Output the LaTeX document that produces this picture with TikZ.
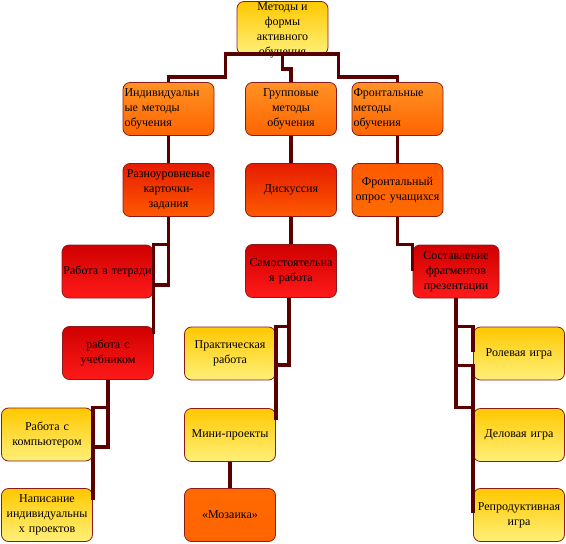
\documentclass[tikz,border=0pt]{standalone}
\usepackage{fontspec}
\setmainfont{Liberation Serif}
\usepackage{tikz}
\usetikzlibrary{calc}

\definecolor{linkred}{HTML}{5A0000}
\definecolor{edgered}{HTML}{8B1A1A}
\definecolor{yelTop}{HTML}{FFC800}
\definecolor{yelBot}{HTML}{FFF07A}
\definecolor{orgTop}{HTML}{FF9224}
\definecolor{orgBot}{HTML}{FF6400}
\definecolor{roTop}{HTML}{E61C00}
\definecolor{roBot}{HTML}{FF5A00}
\definecolor{redTop}{HTML}{D00000}
\definecolor{redBot}{HTML}{FF1A1A}

\begin{document}
\begin{tikzpicture}[x=1pt, y=-1pt,
    cell/.style={draw=edgered, line width=0.8pt, rounded corners=7pt, minimum width=91pt, minimum height=53pt, text width=88pt, inner xsep=1.5pt, align=center, font=\fontsize{12}{15}\selectfont},
    yellowbox/.style={cell, top color=yelTop, bottom color=yelBot},
    orangebox/.style={cell, top color=orgTop, bottom color=orgBot},
    redorange/.style={cell, top color=roTop, bottom color=roBot},
    redbox/.style={cell, top color=redTop, bottom color=redBot},
    lab/.style={align=center, font=\fontsize{12}{15}\selectfont},
    link/.style={draw=linkred, line width=3.5pt},
]
\useasboundingbox (0,0) rectangle (566,544);

% вершина
\node[yellowbox] (metod) at (282.5,28) {};
\node[lab] at (282.5,30.5) {Методы и\\формы\\активного\\обучения};

% второй уровень
\node[orangebox, align=left] (indiv) at (168.5,109) {Индивидуальн\\ые методы\\обучения};
\node[orangebox] (grupp) at (291,109) {Групповые\\методы\\обучения};
\node[orangebox, align=left] (front) at (397.5,109) {Фронтальные\\методы\\обучения};

% третий уровень
\node[redorange] (kart)  at (168.5,190) {Разноуровневые\\карточки-\\задания};
\node[redorange] (disk)  at (291,190)   {Дискуссия};
\node[redorange, top color=orgBot!90!red, bottom color=orgBot!95!yellow] (opros) at (397.5,190) {Фронтальный\\опрос учащихся};

% четвертый уровень
\node[redbox] (tetr)   at (107.5,271.5) {\makebox[88pt]{Работа в тетради}};
\node[redbox] (samost) at (291,271)     {Самостоятельна\\я работа};
\node[redbox, minimum width=86pt, text width=83pt] (sostav) at (456,271.5) {Составление\\фрагментов\\презентации};

% пятый уровень
\node[redbox]    (uchebn) at (108,353)   {работа с\\учебником};
\node[yellowbox] (prakt)  at (230,353.5) {Практическая\\работа};
\node[yellowbox] (rol)    at (519,353.5) {Ролевая игра};

% шестой уровень
\node[yellowbox] (komp)  at (47,434.5) {Работа с\\компьютером};
\node[yellowbox] (mini)  at (230,435)  {Мини-проекты};
\node[yellowbox] (delov) at (519,435)  {Деловая игра};

% седьмой уровень
\node[yellowbox] (napis)  at (47,515)  {Написание\\индивидуальны\\х проектов};
\node[cell, top color=orgBot!80!orange, bottom color=orgBot] (mozaik) at (230,515) {«Мозаика»};
\node[yellowbox] (repr)   at (519,515) {Репродуктивная\\игра};

% связи
\draw[link] (indiv.north) -- ++(0,-5) -- ++(57,0) -- ++(0,-23) -- ++(113,0) -- ++(0,23) -- ++(59,0) -- (front.north);
\draw[link] (metod.south) -- ++(0,14) -| (grupp.north);
\draw[link] (indiv.south) -- (kart.north);
\draw[link] (grupp.south) -- (disk.north);
\draw[link] (front.south) -- (opros.north);
\draw[link] (disk.south) -- (samost.north);

\draw[link] (kart.south) -- ++(0,68) -- ++(-16.5,0);
\draw[link] ([xshift=16pt]tetr.north east) -- (tetr.north east) -- ++(0,89);

\draw[link] (uchebn.south) -- ++(0,67) -- ++(-15.5,0);
\draw[link] ([xshift=15pt]komp.north east) -- (komp.north east) -- ++(0,92);

\draw[link] ([xshift=-2pt]samost.south) -- ++(0,67) -- ++(-13.5,0);
\draw[link] ([xshift=14pt]prakt.north east) -- (prakt.north east) -- ++(0,93);
\draw[link] (mini.south) -- (mozaik.north);

\draw[link] (opros.south) |- (sostav.north west) -- ++(0,26);
\draw[link] (sostav.south) -- ++(0,109) -- ++(17.5,0);
\draw[link] (sostav.south) |- (rol.north west) -- ++(0,25);
\draw[link] ([xshift=-17.5pt,yshift=15pt]rol.south west) -- ++(17.5,0) -- ++(0,148);

\end{tikzpicture}
\end{document}
